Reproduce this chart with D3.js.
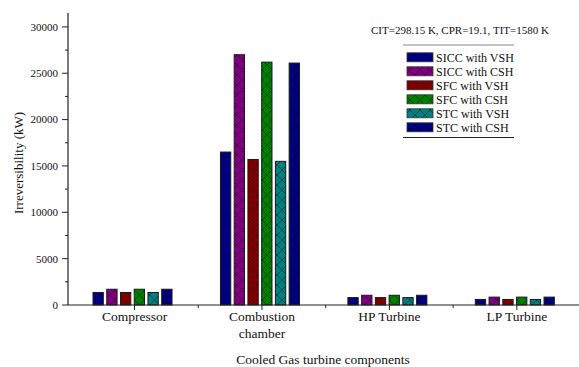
<!DOCTYPE html>
<html><head><meta charset="utf-8">
<script src="https://cdn.jsdelivr.net/npm/d3@7"></script>
<style>body{margin:0;background:#fff}svg{display:block}</style>
</head><body><svg id="c" width="579" height="367" font-family="'Liberation Serif', 'Times New Roman', Times, 'DejaVu Serif', serif"></svg>
<script>
const categories = ["Compressor", "Combustion\nchamber", "HP Turbine", "LP Turbine"];
const series = ["SICC with VSH", "SICC with CSH", "SFC with VSH", "SFC with CSH", "STC with VSH", "STC with CSH"];
const compressorVals = [1350, 1700, 1350, 1700, 1350, 1700];
const combustionVals = [16500, 27000, 15700, 26200, 15500, 26100];
const hpTurbineVals = [800, 1050, 800, 1050, 800, 1050];
const lpTurbineVals = [600, 850, 600, 850, 600, 850];
const yTicks = [0, 5000, 10000, 15000, 20000, 25000, 30000];
const colors = ["#000080", "#800080", "#800000", "#008000", "#008080", "#000080"];
const hatchOpacity = [0.25, 0.6, 0.3, 0.6, 0.6, 0.6];

const values = [compressorVals, combustionVals, hpTurbineVals, lpTurbineVals];
const svg = d3.select("#c");
const x = d3.scaleLinear().domain([0.478, 4.48]).range([68, 578]);
const y = d3.scaleLinear().domain([0, 31500]).range([305, 13]);
const inner = d3.scaleBand().domain(series).range([-41.5, 37.5]).paddingInner(0.25);

const defs = svg.append("defs");
series.forEach((s, i) => {
  const p = defs.append("pattern").attr("id", "h" + i).attr("patternUnits", "userSpaceOnUse")
    .attr("width", 10).attr("height", 10);
  p.append("rect").attr("width", 10).attr("height", 10).attr("fill", colors[i]);
  p.append("path").attr("d", "M0,0L10,10M10,0L0,10M-1,9L1,11M9,-1L11,1")
    .attr("stroke", "#000").attr("stroke-width", 0.7).attr("opacity", hatchOpacity[i]);
});

// bars
categories.forEach((c, ci) => {
  const g = svg.append("g").attr("transform", `translate(${x(ci + 1)},0)`);
  g.selectAll("rect").data(values[ci]).join("rect")
    .attr("x", (d, i) => inner(series[i]))
    .attr("width", inner.bandwidth())
    .attr("y", d => y(d))
    .attr("height", d => y(0) - y(d))
    .attr("fill", (d, i) => `url(#h${i})`)
    .attr("stroke", "#1a1a1a").attr("stroke-width", 1);
});

// y axis
const yAxis = svg.append("g");
yAxis.append("line").attr("x1", 68).attr("x2", 68).attr("y1", y(31500)).attr("y2", y(0)).attr("stroke", "#222").attr("stroke-width", 1.2);
yTicks.forEach(t => {
  yAxis.append("line").attr("x1", 62).attr("x2", 68).attr("y1", y(t)).attr("y2", y(t)).attr("stroke", "#222");
  yAxis.append("text").attr("x", 58).attr("y", y(t)).attr("dy", "0.35em").attr("text-anchor", "end")
    .attr("font-size", 11).attr("fill", "#111").text(t);
});
d3.range(2500, 30000, 5000).forEach(t => {
  yAxis.append("line").attr("x1", 65).attr("x2", 68).attr("y1", y(t)).attr("y2", y(t)).attr("stroke", "#222");
});
svg.append("text").attr("transform", `translate(18,163) rotate(-90)`).attr("text-anchor", "middle")
  .attr("dy", "0.35em").attr("font-size", 13).attr("fill", "#111").text("Irreversibility (kW)");

// x axis
const xAxis = svg.append("g");
xAxis.append("line").attr("x1", x(0.478)).attr("x2", 579).attr("y1", y(0)).attr("y2", y(0)).attr("stroke", "#222").attr("stroke-width", 1.2);
categories.forEach((c, ci) => {
  xAxis.append("line").attr("x1", x(ci + 1)).attr("x2", x(ci + 1)).attr("y1", y(0)).attr("y2", y(0) + 5).attr("stroke", "#222");
  const lines = c.split("\n");
  lines.forEach((l, li) => {
    xAxis.append("text").attr("x", x(ci + 1)).attr("y", 321 + li * 17).attr("text-anchor", "middle")
      .attr("font-size", 13.5).attr("fill", "#111").text(l);
  });
});
[1.5, 2.5, 3.5].forEach(v => {
  xAxis.append("line").attr("x1", x(v)).attr("x2", x(v)).attr("y1", y(0)).attr("y2", y(0) + 3).attr("stroke", "#222");
});
svg.append("text").attr("x", 323).attr("y", 364).attr("text-anchor", "middle").attr("font-size", 13.5).attr("fill", "#111")
  .text("Cooled Gas turbine components");

// annotation
svg.append("text").attr("x", 371).attr("y", 34).attr("font-size", 11).attr("fill", "#111").text("CIT=298.15 K, CPR=19.1, TIT=1580 K");

// legend
const lg = svg.append("g");
lg.append("line").attr("x1", 403).attr("x2", 514).attr("y1", 45).attr("y2", 45).attr("stroke", "#888");
lg.append("line").attr("x1", 403).attr("x2", 514).attr("y1", 137.5).attr("y2", 137.5).attr("stroke", "#222");
series.forEach((s, i) => {
  const cy = 57.3 + i * 14;
  lg.append("rect").attr("x", 407).attr("y", cy - 4.5).attr("width", 26).attr("height", 9)
    .attr("fill", `url(#h${i})`).attr("stroke", "#333").attr("stroke-width", 0.8);
  lg.append("text").attr("x", 436).attr("y", cy).attr("dy", "0.35em").attr("font-size", 12).attr("fill", "#111").text(s);
});
</script></body></html>
